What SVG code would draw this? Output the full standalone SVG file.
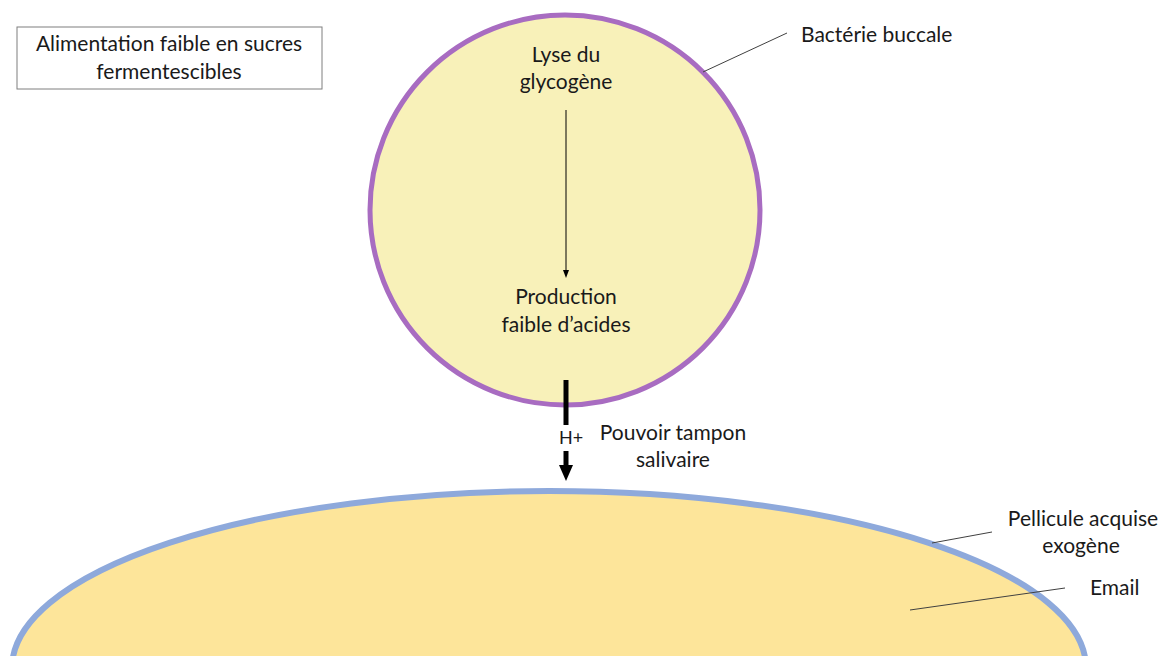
<svg xmlns="http://www.w3.org/2000/svg" width="1165" height="656" viewBox="0 0 1165 656">
<style>
text{font-family:Lato,"Open Sans","Liberation Sans",sans-serif;font-size:21px;fill:#1a1a1a}
.c{text-anchor:middle}
.lead{stroke:#404040;stroke-width:1;fill:none}
</style>
<defs>
<marker id="sm" markerWidth="8" markerHeight="8" refX="4" refY="4" orient="auto" markerUnits="userSpaceOnUse"><path d="M0,1 L8,4 L0,7 Z" fill="#000"/></marker>
<marker id="big" markerWidth="16" markerHeight="16" refX="8" refY="8" orient="auto" markerUnits="userSpaceOnUse"><path d="M0,1 L16,8 L0,15 Z" fill="#000"/></marker>
</defs>
<rect width="1165" height="656" fill="#fff"/>
<g id="email">
<ellipse cx="549" cy="668" rx="537" ry="177" fill="#FDE59A" stroke="#8EA9DB" stroke-width="6"/>
</g>
<g id="bacterie">
<circle cx="565" cy="210" r="195" fill="#F8F1B9" stroke="#A86CC1" stroke-width="5"/>
<text class="c" x="566" y="62">Lyse du</text>
<text class="c" x="566" y="89">glycogène</text>
<text class="c" x="566" y="304">Production</text>
<text class="c" x="566" y="332">faible d’acides</text>
</g>
<g id="alimentation">
<rect x="17" y="27" width="305" height="62" fill="#fff" stroke="#7f7f7f" stroke-width="1"/>
<text class="c" x="169" y="51">Alimentation faible en sucres</text>
<text class="c" x="169" y="79">fermentescibles</text>
</g>
<g id="labels">
<text x="801" y="42">Bactérie buccale</text>
<text class="c" x="673" y="440">Pouvoir tampon</text>
<text class="c" x="673" y="467">salivaire</text>
<text x="571" y="444" class="c" style="font-size:18px">H+</text>
<text class="c" x="1083" y="526">Pellicule acquise</text>
<text class="c" x="1081" y="553">exogène</text>
<text x="1090" y="595">Email</text>
</g>
<g id="connectors">
<line x1="566" y1="110" x2="566" y2="274" stroke="#000" stroke-width="1" marker-end="url(#sm)"/>
<line x1="566" y1="380" x2="566" y2="425" stroke="#000" stroke-width="5"/>
<line x1="566" y1="451" x2="566" y2="473" stroke="#000" stroke-width="5" marker-end="url(#big)"/>
<line class="lead" x1="787" y1="33" x2="703" y2="72"/>
<line class="lead" x1="992" y1="532" x2="932" y2="543"/>
<line class="lead" x1="1065" y1="588" x2="910" y2="610"/>
</g>
</svg>
